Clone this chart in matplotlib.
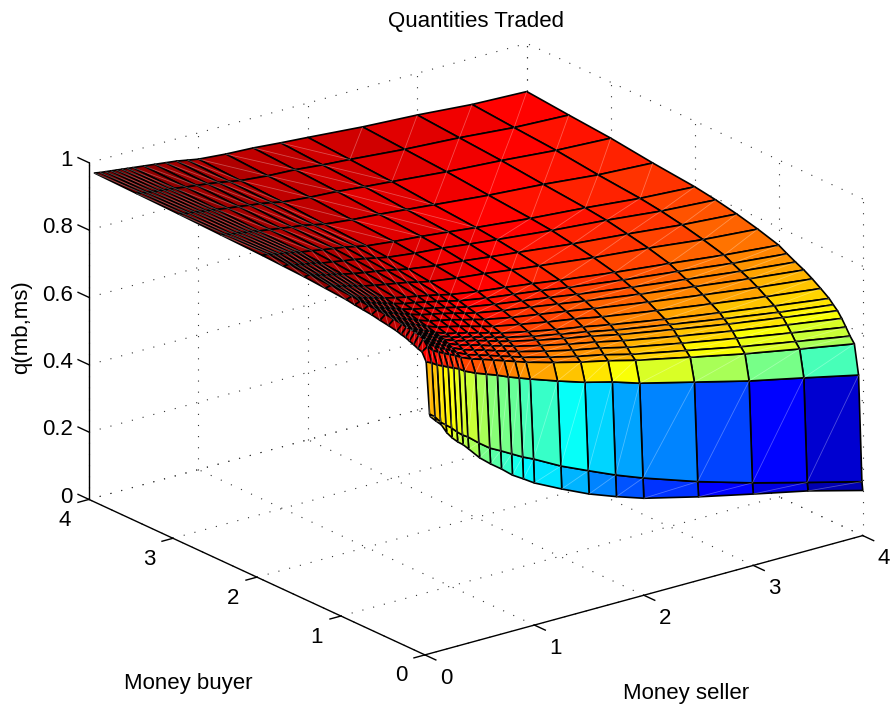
#!/usr/bin/env python3
"""Quantities traded surface, q(mb,ms), drawn in the MATLAB surf look. Saves out.png."""
import numpy as np
import matplotlib
matplotlib.use("Agg")
import matplotlib.pyplot as plt
from matplotlib.colors import LinearSegmentedColormap
from mpl_toolkits.mplot3d import proj3d
from mpl_toolkits.mplot3d.art3d import Line3DCollection

plt.rcParams["font.family"] = ["Liberation Sans", "DejaVu Sans"]
plt.rcParams["font.size"] = 16

x_vals = [.05, .1, .15, .2, .25, .3, .35, .4, .5, .6, .7, .8, .9, 1, 1.25, 1.5, 1.75, 2, 2.5, 3, 3.5, 4]
y_vals = [0, .01, .05, .1, .15, .2, .25, .3, .35, .4, .5, .6, .7, .8, .9, 1, 1.25, 1.5, 1.75, 2, 2.5, 3, 3.5, 4]

# one row of q per money buyer value
q_y000 = [.703, .686, .670, .642, .622, .606, .593, .576, .541, .514, .490, .463, .443, .422, .382, .345, .315, .288, .248, .212, .177, .134]
q_y001 = [.710, .697, .677, .664, .651, .635, .621, .611, .584, .560, .543, .525, .507, .492, .449, .413, .378, .347, .292, .244, .201, .159]
q_y005 = [.860, .853, .842, .835, .827, .820, .813, .802, .787, .775, .763, .749, .737, .725, .697, .671, .650, .624, .583, .542, .507, .471]
q_y010 = [.884, .895, .879, .870, .862, .854, .847, .837, .823, .813, .802, .791, .780, .769, .746, .725, .707, .686, .651, .617, .587, .558]
q_y015 = [.888, .912, .892, .882, .872, .864, .856, .846, .830, .820, .810, .799, .789, .778, .756, .736, .719, .698, .665, .632, .603, .575]
q_y020 = [.894, .918, .898, .888, .879, .871, .864, .854, .839, .829, .820, .809, .799, .789, .768, .749, .733, .713, .681, .651, .623, .596]
q_y025 = [.899, .921, .902, .893, .885, .877, .870, .861, .847, .838, .829, .818, .809, .799, .779, .761, .745, .727, .696, .667, .641, .616]
q_y030 = [.904, .923, .906, .897, .890, .882, .876, .867, .854, .845, .837, .827, .817, .808, .789, .772, .757, .739, .710, .682, .657, .633]
q_y035 = [.907, .924, .908, .900, .893, .886, .880, .871, .859, .850, .842, .832, .823, .814, .795, .779, .764, .747, .719, .692, .667, .645]
q_y040 = [.911, .927, .912, .904, .897, .890, .884, .876, .864, .856, .848, .839, .830, .821, .803, .787, .773, .757, .729, .704, .680, .658]
q_y050 = [.916, .930, .916, .909, .902, .896, .890, .883, .871, .864, .856, .847, .838, .829, .813, .798, .785, .769, .743, .719, .696, .676]
q_y060 = [.920, .933, .920, .913, .907, .901, .896, .889, .878, .871, .864, .855, .847, .838, .822, .809, .796, .782, .757, .734, .712, .693]
q_y070 = [.925, .935, .924, .917, .912, .906, .901, .895, .885, .878, .871, .863, .854, .846, .831, .819, .806, .793, .769, .747, .726, .708]
q_y080 = [.928, .936, .926, .920, .915, .910, .905, .899, .890, .883, .876, .868, .860, .852, .838, .826, .814, .801, .778, .757, .737, .720]
q_y090 = [.931, .938, .929, .924, .919, .914, .909, .904, .895, .889, .882, .875, .867, .859, .845, .834, .823, .810, .788, .769, .749, .733]
q_y100 = [.935, .941, .932, .927, .923, .918, .914, .909, .901, .894, .888, .881, .874, .866, .853, .843, .832, .820, .799, .781, .762, .747]
q_y125 = [.940, .944, .937, .933, .929, .925, .920, .916, .909, .903, .897, .891, .883, .876, .864, .855, .844, .834, .814, .798, .779, .766]
q_y150 = [.945, .947, .941, .937, .933, .930, .926, .922, .915, .909, .904, .898, .891, .884, .872, .864, .854, .845, .826, .811, .794, .782]
q_y175 = [.948, .949, .943, .940, .936, .934, .931, .926, .921, .915, .910, .904, .897, .890, .880, .873, .863, .854, .837, .823, .806, .795]
q_y200 = [.951, .950, .946, .942, .940, .937, .934, .930, .925, .919, .914, .909, .902, .895, .886, .879, .870, .861, .844, .831, .815, .805]
q_y250 = [.955, .951, .948, .946, .943, .941, .938, .935, .930, .925, .920, .916, .909, .902, .893, .887, .879, .871, .855, .843, .827, .818]
q_y300 = [.959, .955, .953, .951, .948, .946, .944, .941, .936, .932, .927, .923, .917, .910, .902, .897, .889, .882, .867, .856, .842, .834]
q_y350 = [.962, .959, .956, .954, .952, .950, .948, .946, .941, .937, .933, .928, .922, .916, .908, .904, .896, .890, .876, .866, .852, .845]
q_y400 = [.965, .962, .960, .958, .956, .954, .952, .950, .946, .942, .938, .934, .928, .922, .915, .911, .904, .898, .885, .876, .863, .857]

x_ticks = [0, 1, 2, 3, 4]
y_ticks = [0, 1, 2, 3, 4]
z_ticks = [0, .2, .4, .6, .8, 1]
z_labels = ["0", "0.2", "0.4", "0.6", "0.8", "1"]

Z = np.array([q_y000, q_y001, q_y005, q_y010, q_y015, q_y020, q_y025, q_y030, q_y035, q_y040, q_y050, q_y060,
              q_y070, q_y080, q_y090, q_y100, q_y125, q_y150, q_y175, q_y200, q_y250, q_y300, q_y350, q_y400])
X, Y = np.meshgrid(x_vals, y_vals)

# matlab's jet, matplotlib's own has its stops elsewhere
jet = LinearSegmentedColormap.from_list("mjet", [(0, (0, 0, .5)), (.125, (0, 0, 1)), (.375, (0, 1, 1)),
                                                 (.625, (1, 1, 0)), (.875, (1, 0, 0)), (1, (.5, 0, 0))], N=64)

W, H = 892, 707
S = 707
fig = plt.figure(figsize=(W / 100, H / 100), dpi=100)
ax = fig.add_axes([112.8 / W, -5.2 / H, S / W, S / H], projection="3d", proj_type="ortho")
ax.view_init(elev=20.8, azim=232.5)
ax.set_box_aspect((551.6, 551.6, 360), zoom=551.6 * 1.85 / (1.2229 * S))
ax.computed_zorder = False
norm = plt.Normalize(Z.min(), Z.max())
surf = ax.plot_surface(X, Y, Z, facecolors=jet(norm(Z)), edgecolor="k", linewidth=1.2,
                       rstride=1, cstride=1, shade=False, zorder=1)
surf.set_clip_on(False)

# faint triangle seams inside each quad
seams = []
for j in range(len(y_vals) - 1):
    for i in range(len(x_vals) - 1):
        if x_vals[i] < 2 and y_vals[j] >= 2:
            a, b = (j, i + 1), (j + 1, i)
        else:
            a, b = (j, i), (j + 1, i + 1)
        seams.append([(X[a], Y[a], Z[a]), (X[b], Y[b], Z[b])])
lc = Line3DCollection(seams, colors=(1, 1, 1, .3), linewidths=.6, zorder=2)
lc.set_clip_on(False)
ax.add_collection3d(lc)

ax.set_xlim(0, 4, view_margin=0)
ax.set_ylim(0, 4, view_margin=0)
ax.set_zlim(0, 1, view_margin=0)
ax.set_xticks([])
ax.set_yticks([])
ax.set_zticks([])
ax.set_axis_off()

# dotted grid on the floor and the two back walls
gk = dict(color="#333333", lw=.8, ls=(0, (1, 9)), clip_on=False, zorder=0)
for t in x_ticks:
    ax.plot([t, t], [0, 4], [0, 0], **gk)
    ax.plot([t, t], [4, 4], [0, 1], **gk)
for t in y_ticks:
    ax.plot([0, 4], [t, t], [0, 0], **gk)
    ax.plot([4, 4], [t, t], [0, 1], **gk)
for t in z_ticks:
    ax.plot([0, 4], [4, 4], [t, t], **gk)
    ax.plot([4, 4], [0, 4], [t, t], **gk)


def tick_label(x, y, z, s, ha="center"):
    """Project once and place flat text, so the label has a plain 2D position."""
    x2, y2, _ = proj3d.proj_transform(x, y, z, ax.get_proj())
    ax.text2D(x2, y2, s, ha=ha, va="center", transform=ax.transData)


# box axes are drawn by hand, the mplot3d ones sit and point elsewhere
kw = dict(color="k", lw=1.0, clip_on=False, zorder=3)
ax.plot([0, 4], [0, 0], [0, 0], **kw)
ax.plot([0, 0], [0, 4], [0, 0], **kw)
ax.plot([0, 0], [4, 4], [0, 1], **kw)
for t in x_ticks:
    ax.plot([t, t], [0, -.13], [0, 0], **kw)
    tick_label(t, -.25, -.04, str(t))
for t in y_ticks:
    ax.plot([0, -.1], [t, t], [0, 0], **kw)
    tick_label(-.22, t, -.043, str(t))
for t, s in zip(z_ticks, z_labels):
    ax.plot([0, 0], [4, 4.13], [t, t], **kw)
    tick_label(0, 4.19, t - .015, s, ha="right")

fig.text(476 / W, 1 - 22 / H, "Quantities Traded", ha="center", va="center")
fig.text(686 / W, 1 - 693 / H, "Money seller", ha="center", va="center")
fig.text(188 / W, 1 - 683 / H, "Money buyer", ha="center", va="center")
fig.text(22 / W, 1 - 327 / H, "q(mb,ms)", ha="center", va="center", rotation=90)
fig.savefig("out.png", dpi=100)
